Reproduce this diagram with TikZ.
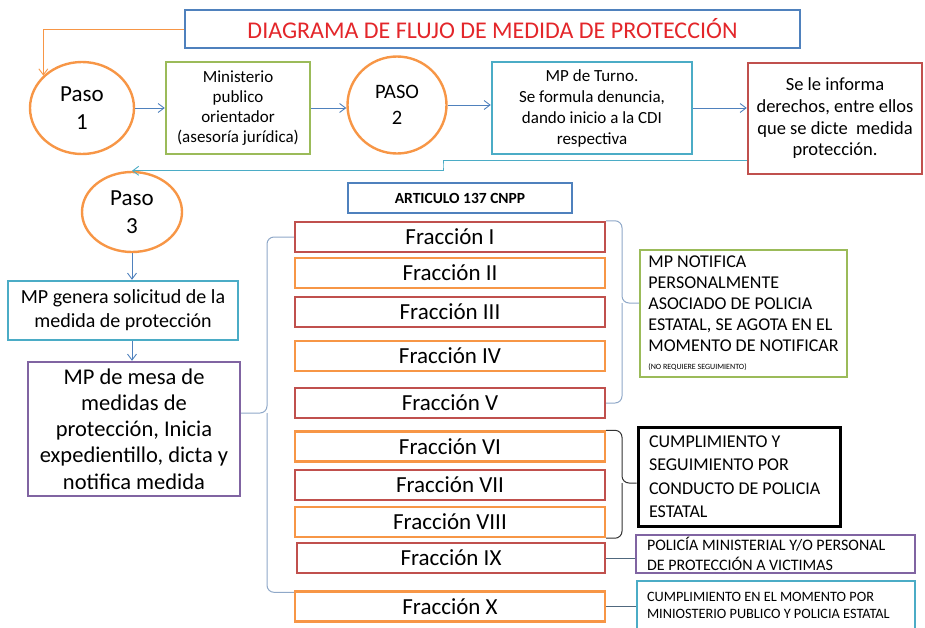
\documentclass[tikz,border=0pt]{standalone}
\usepackage{fontspec}
\setmainfont{Carlito}
\usetikzlibrary{shapes.geometric}
\usetikzlibrary{positioning}
\usetikzlibrary{arrows.meta}
\usetikzlibrary{calc}

\definecolor{ofblue}{HTML}{4F81BD}
\definecolor{oforange}{HTML}{F79646}
\definecolor{ofgreen}{HTML}{9BBB59}
\definecolor{ofred}{HTML}{C0504D}
\definecolor{ofcyan}{HTML}{4BACC6}
\definecolor{ofpurple}{HTML}{8064A2}
\definecolor{titlered}{HTML}{E3262A}
\definecolor{bracecol}{HTML}{8FA8C8}
\definecolor{linkcol}{HTML}{50687E}

\begin{document}
\begin{tikzpicture}[x=1pt, y=-1pt]
	\tikzset{
		box/.style={rectangle, draw, line width=2.4pt, inner sep=0pt, align=center},
		pasonode/.style={ellipse, draw=oforange, line width=2.4pt, inner sep=0pt, align=center, font=\fontsize{23}{28}\selectfont},
		fracnode/.style={box, minimum width=310pt, minimum height=30pt, font=\fontsize{23}{26}\selectfont},
		notenode/.style={box, align=flush left, anchor=center},
		flow/.style={draw=ofblue, line width=0.9pt, -{Straight Barb[length=6pt,width=9pt]}},
		bracket/.style={draw=bracecol, line width=1pt, rounded corners=7pt},
		link/.style={draw=linkcol, line width=1pt},
	}
	\useasboundingbox (0,0) rectangle (925,627);

	\node[box, draw=ofblue, minimum width=615pt, minimum height=38pt, text=titlered, font=\fontsize{24}{28}\selectfont] (titulo) at (492.5,29) {DIAGRAMA DE FLUJO DE MEDIDA DE PROTECCIÓN};

	\node[pasonode, minimum width=104pt, minimum height=92pt] (paso1) at (82,108) {Paso\\1};
	\node[box, draw=ofgreen, minimum width=144pt, minimum height=92pt, font=\fontsize{17}{20}\selectfont] (orientador) at (238,108) {Ministerio\\publico\\orientador\\(asesoría jurídica)};
	\node[pasonode, minimum width=99pt, minimum height=97pt, font=\fontsize{20.5}{26}\selectfont] (paso2) at (397,105) {PASO\\2};
	\node[box, draw=ofcyan, minimum width=200pt, minimum height=92pt, font=\fontsize{17}{21}\selectfont] (turno) at (592,108) {MP de Turno.\\Se formula denuncia,\\dando inicio a la CDI\\respectiva};
	\node[box, draw=ofred, minimum width=174pt, minimum height=111pt, font=\fontsize{18.5}{21.7}\selectfont] (informa) at (835,118.5) {Se le informa\\derechos, entre ellos\\que se dicte~ medida\\protección.};

	\draw[flow, draw=oforange] (titulo.west) -| (paso1.140);
	\draw[flow] (paso1.east) -- (orientador.west);
	\draw[flow] (orientador.east) -- (orientador.east -| paso2.west);
	\draw[flow] (paso2.east) -- (paso2.east -| turno.west);
	\draw[flow] (turno.east) -- (turno.east -| informa.west);

	\node[pasonode, minimum width=100pt, minimum height=80pt] (paso3) at (132,212) {Paso\\3};
	\node[box, draw=ofcyan, minimum width=230pt, minimum height=59pt, font=\fontsize{20}{24}\selectfont] (solicitud) at (123,310.5) {MP genera solicitud de la\\medida de protección};
	\node[box, draw=ofpurple, minimum width=212pt, minimum height=134pt, font=\fontsize{22.5}{26.2}\selectfont] (mesa) at (134,429) {MP de mesa de\\medidas de\\protección, Inicia\\expedientillo, dicta y\\notifica medida};

	\coordinate (quiebre) at (443,166);
	\draw[flow, draw=ofcyan] ([yshift=-41.5pt]informa.west) -| (quiebre) |- (paso3.north);
	\draw[flow] (paso3.south) -- (paso3.south |- solicitud.north);
	\draw[flow] (paso3.south |- solicitud.south) -- (paso3.south |- mesa.north);

	\node[box, draw=ofblue, minimum width=224pt, minimum height=30pt, font=\fontsize{15.5}{18}\selectfont\bfseries] (articulo) at (460,198) {ARTICULO 137 CNPP};

	\node[fracnode, draw=ofred] (f1) at (450,237) {Fracción I};
	\node[fracnode, draw=oforange] (f2) at (450,273) {Fracción II};
	\node[fracnode, draw=ofred] (f3) at (450,312) {Fracción III};
	\node[fracnode, draw=oforange] (f4) at (450,356) {Fracción IV};
	\node[fracnode, draw=ofred] (f5) at (450,403) {Fracción V};
	\node[fracnode, draw=oforange] (f6) at (450,446.5) {Fracción VI};
	\node[fracnode, draw=ofred] (f7) at (450,485) {Fracción VII};
	\node[fracnode, draw=oforange] (f8) at (450,522) {Fracción VIII};
	\node[fracnode, draw=ofred, minimum width=308pt] (f9) at (451,558) {Fracción IX};
	\node[fracnode, draw=oforange] (f10) at (450,606.5) {Fracción X};

	\coordinate (llave) at (267,413);
	\draw[bracket] (f1.west) -| (llave) -- (mesa.east |- llave);
	\draw[bracket] ([yshift=-2pt]f10.north west) -| (llave);

	\node[box, draw=ofgreen, align=left, minimum width=207pt, minimum height=127pt, font=\fontsize{18}{21}\selectfont] (notifica) at (743.5,313.5) {MP NOTIFICA\\PERSONALMENTE\\ASOCIADO DE POLICIA\\ESTATAL, SE AGOTA EN EL\\MOMENTO DE NOTIFICAR\\[-3pt]{\fontsize{8}{10}\selectfont (NO REQUIERE SEGUIMIENTO)}};
	\node[notenode, draw=black, line width=3pt, text width=180pt, inner xsep=11pt, minimum height=99pt, font=\fontsize{18}{23.5}\selectfont] (conducto) at (739,476.5) {CUMPLIMIENTO Y\\SEGUIMIENTO POR\\CONDUCTO DE POLICIA\\ESTATAL};
	\node[notenode, draw=ofpurple, text width=257pt, inner xsep=11pt, minimum height=38pt, font=\fontsize{16}{20}\selectfont] (policia) at (775.5,554) {POLICÍA MINISTERIAL Y/O PERSONAL\\DE PROTECCIÓN A VICTIMAS};
	\node[notenode, draw=ofcyan, text width=258pt, inner xsep=10pt, minimum height=49pt, font=\fontsize{14.3}{17.5}\selectfont] (momento) at (776,605.5) {CUMPLIMIENTO EN EL MOMENTO POR\\MINIOSTERIO PUBLICO Y POLICIA ESTATAL};

	\coordinate (llaveA) at (622,303);
	\draw[bracket] (f1.north east) -| (llaveA) -- (notifica.west |- llaveA);
	\draw[bracket] (f5.east) -| (llaveA);

	\coordinate (llaveB) at (622,483);
	\draw[bracket, draw=black!80] (f6.north east) -| (llaveB) -- (conducto.west |- llaveB);
	\draw[bracket, draw=black!80] (f8.south east) -| (llaveB);

	\draw[link] (f9.east) -- (f9.east -| policia.west);
	\draw[link] (f10.east) -- (f10.east -| momento.west);
\end{tikzpicture}
\end{document}
